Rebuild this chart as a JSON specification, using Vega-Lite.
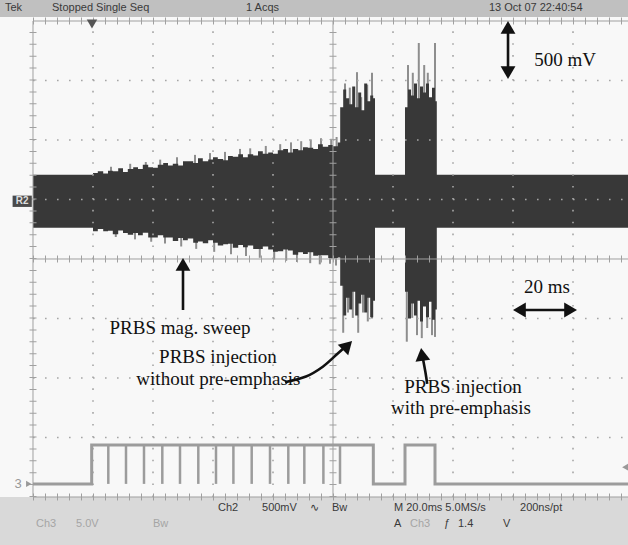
{
"$schema": "https://vega.github.io/schema/vega-lite/v6.json",
"width": 628, "height": 545, "padding": 0, "autosize": {"type": "none"},
"background": "#f8f8f8",
"config": {"view": {"stroke": null}},
"datasets": {
"header": [{"x": -0.55, "x2": 9.9167, "y": 4.067, "y2": 4.353}],
"footer": [{"x": -0.55, "x2": 9.9167, "y": -4.807, "y2": -4.0}],
"body": [
{"x":0,"hi":1.415,"lo":0.525},
{"x":1.0,"hi":1.445,"lo":0.465},{"x":1.08,"hi":1.475,"lo":0.505},{"x":1.17,"hi":1.435,"lo":0.466},{"x":1.25,"hi":1.485,"lo":0.476},
{"x":1.33,"hi":1.474,"lo":0.417},{"x":1.42,"hi":1.524,"lo":0.477},{"x":1.5,"hi":1.464,"lo":0.438},{"x":1.58,"hi":1.514,"lo":0.408},
{"x":1.67,"hi":1.544,"lo":0.438},{"x":1.75,"hi":1.514,"lo":0.399},{"x":1.83,"hi":1.583,"lo":0.439},{"x":1.92,"hi":1.543,"lo":0.36},
{"x":2.0,"hi":1.533,"lo":0.36},{"x":2.08,"hi":1.583,"lo":0.4},{"x":2.17,"hi":1.613,"lo":0.361},{"x":2.25,"hi":1.573,"lo":0.361},
{"x":2.33,"hi":1.602,"lo":0.302},{"x":2.42,"hi":1.572,"lo":0.352},{"x":2.5,"hi":1.642,"lo":0.313},{"x":2.58,"hi":1.642,"lo":0.343},
{"x":2.67,"hi":1.612,"lo":0.273},{"x":2.75,"hi":1.692,"lo":0.294},{"x":2.83,"hi":1.641,"lo":0.264},{"x":2.92,"hi":1.671,"lo":0.315},
{"x":3.0,"hi":1.711,"lo":0.275},{"x":3.08,"hi":1.681,"lo":0.225},{"x":3.17,"hi":1.661,"lo":0.246},{"x":3.25,"hi":1.731,"lo":0.256},
{"x":3.33,"hi":1.72,"lo":0.187},{"x":3.42,"hi":1.76,"lo":0.237},{"x":3.5,"hi":1.71,"lo":0.198},{"x":3.58,"hi":1.76,"lo":0.228},
{"x":3.67,"hi":1.74,"lo":0.168},{"x":3.75,"hi":1.81,"lo":0.169},{"x":3.83,"hi":1.769,"lo":0.209},{"x":3.92,"hi":1.789,"lo":0.16},
{"x":4.0,"hi":1.769,"lo":0.12},{"x":4.08,"hi":1.829,"lo":0.13},{"x":4.17,"hi":1.849,"lo":0.161},{"x":4.25,"hi":1.789,"lo":0.141},
{"x":4.33,"hi":1.848,"lo":0.072},{"x":4.42,"hi":1.828,"lo":0.112},{"x":4.5,"hi":1.878,"lo":0.083},{"x":4.58,"hi":1.868,"lo":0.113},
{"x":4.67,"hi":1.848,"lo":0.053},{"x":4.75,"hi":1.928,"lo":0.064},{"x":4.83,"hi":1.887,"lo":0.064},{"x":4.92,"hi":1.917,"lo":0.015},
{"x":5.0,"hi":1.897,"lo":0.015},{"x":5.08,"hi":1.957,"lo":0.025},
{"x":5.12,"hi":2.55,"lo":-0.45},{"x":5.17,"hi":2.85,"lo":-0.95},{"x":5.22,"hi":2.7,"lo":-0.65},{"x":5.27,"hi":2.6,"lo":-0.85},
{"x":5.32,"hi":2.9,"lo":-0.55},{"x":5.37,"hi":2.55,"lo":-0.95},{"x":5.42,"hi":2.8,"lo":-0.75},{"x":5.47,"hi":2.5,"lo":-0.6},
{"x":5.52,"hi":2.95,"lo":-0.9},{"x":5.57,"hi":2.65,"lo":-0.65},{"x":5.62,"hi":2.75,"lo":-0.98},{"x":5.67,"hi":2.7,"lo":-0.7},
{"x":5.7,"hi":1.415,"lo":0.525},
{"x":6.2,"hi":2.55,"lo":-0.55},{"x":6.25,"hi":2.85,"lo":-1.0},{"x":6.3,"hi":2.75,"lo":-0.75},{"x":6.35,"hi":2.95,"lo":-0.95},
{"x":6.4,"hi":2.7,"lo":-0.7},{"x":6.45,"hi":2.9,"lo":-1.05},{"x":6.5,"hi":2.8,"lo":-0.8},{"x":6.55,"hi":2.95,"lo":-0.98},
{"x":6.6,"hi":2.72,"lo":-0.72},{"x":6.65,"hi":2.88,"lo":-1.02},{"x":6.7,"hi":2.65,"lo":-0.85},
{"x":6.73,"hi":1.415,"lo":0.525},{"x":9.92,"hi":1.415,"lo":0.525}
],
"spikes": [
{"x":1.3,"tip":1.55},{"x":1.62,"tip":1.6},{"x":1.88,"tip":1.63},{"x":2.12,"tip":1.67},{"x":2.4,"tip":1.71},{"x":2.7,"tip":1.75},{"x":2.95,"tip":1.78},
{"x":3.2,"tip":1.8},{"x":3.45,"tip":1.85},{"x":3.62,"tip":1.86},{"x":3.88,"tip":1.9},{"x":4.12,"tip":1.93},{"x":4.3,"tip":1.96},
{"x":4.47,"tip":1.98},{"x":4.63,"tip":2.01},{"x":4.8,"tip":2.03},{"x":4.97,"tip":2.02},{"x":5.06,"tip":2.05},
{"x":1.38,"tip":0.37},{"x":1.7,"tip":0.33},{"x":1.97,"tip":0.29},{"x":2.2,"tip":0.26},{"x":2.47,"tip":0.21},{"x":2.72,"tip":0.17},{"x":3.02,"tip":0.12},
{"x":3.3,"tip":0.08},{"x":3.55,"tip":0.05},{"x":3.78,"tip":0.02},{"x":4.02,"tip":-0.01},{"x":4.22,"tip":-0.03},{"x":4.4,"tip":-0.05},
{"x":4.62,"tip":-0.07},{"x":4.78,"tip":-0.09},{"x":4.95,"tip":-0.08},{"x":5.05,"tip":-0.11},
{"x":5.2,"tip":2.95},{"x":5.28,"tip":2.88},{"x":5.4,"tip":3.14},{"x":5.47,"tip":2.72},{"x":5.57,"tip":2.93},{"x":5.65,"tip":3.13},
{"x":5.17,"tip":-1.24},{"x":5.25,"tip":-0.9},{"x":5.33,"tip":-0.99},{"x":5.42,"tip":-1.24},{"x":5.5,"tip":-0.9},{"x":5.58,"tip":-1.05},{"x":5.65,"tip":-1.0},
{"x":6.25,"tip":3.26},{"x":6.33,"tip":3.13},{"x":6.43,"tip":3.63},{"x":6.52,"tip":3.26},{"x":6.58,"tip":3.13},{"x":6.7,"tip":3.63},
{"x":6.23,"tip":-1.39},{"x":6.32,"tip":-0.99},{"x":6.4,"tip":-1.28},{"x":6.48,"tip":-1.33},{"x":6.57,"tip":-1.16},{"x":6.65,"tip":-1.28},{"x":6.7,"tip":-1.31}
],
"gridH": [{"y":-3},{"y":-2},{"y":-1},{"y":1},{"y":2},{"y":3}],
"gridV": [{"x":1},{"x":2},{"x":3},{"x":4},{"x":6},{"x":7},{"x":8},{"x":9}],
"lineH": [{"y":0},{"y":4},{"y":-4}],
"lineV": [{"x":0},{"x":5}],
"ch3": [{"x":0,"v":-3.78},{"x":0.978,"v":-3.126},{"x":5.672,"v":-3.78},{"x":6.2,"v":-3.126},{"x":6.7,"v":-3.78},{"x":9.92,"v":-3.78}],
"pulses": [{"x":1.255},{"x":1.55},{"x":1.85},{"x":2.155},{"x":2.45},{"x":2.755},{"x":3.05},{"x":3.34},{"x":3.645},{"x":3.95},{"x":4.255},{"x":4.522},{"x":4.84},{"x":5.117}],
"arrows": [
{"id":"mv","ord":0,"x":7.917,"y":3.85},{"id":"mv","ord":1,"x":7.917,"y":3.17},
{"id":"ms","ord":0,"x":8.15,"y":-0.857},{"id":"ms","ord":1,"x":8.92,"y":-0.857},
{"id":"sw","ord":0,"x":2.5,"y":-0.857},{"id":"sw","ord":1,"x":2.5,"y":-0.15},
{"id":"wo","ord":0,"x":4.2,"y":-2.07},{"id":"wo","ord":1,"x":4.55,"y":-1.975},{"id":"wo","ord":2,"x":4.83,"y":-1.81},{"id":"wo","ord":3,"x":5.07,"y":-1.597},{"id":"wo","ord":4,"x":5.2,"y":-1.479},
{"id":"wi","ord":0,"x":6.57,"y":-2.1},{"id":"wi","ord":1,"x":6.54,"y":-1.9},{"id":"wi","ord":2,"x":6.5,"y":-1.68}
],
"headUp": [{"x":7.917,"y":3.892},{"x":2.5,"y":-0.09}],
"headDown": [{"x":7.917,"y":3.133}],
"headLeft": [{"x":8.107,"y":-0.857}],
"headRight": [{"x":8.96,"y":-0.857}],
"headWo": [{"x":5.242,"y":-1.454}],
"headWi": [{"x":6.483,"y":-1.603}],
"notes": [
{"x":8.867,"y":3.345,"t":"500 mV"},
{"x":8.567,"y":-0.47,"t":"20 ms"},
{"x":2.45,"y":-1.16,"t":"PRBS mag. sweep"},
{"x":3.083,"y":-1.647,"t":"PRBS injection"},
{"x":3.09,"y":-2.017,"t":"without pre-emphasis"},
{"x":7.167,"y":-2.151,"t":"PRBS injection"},
{"x":7.133,"y":-2.504,"t":"with pre-emphasis"}
],
"headTxt": [
{"x":-0.467,"y":4.218,"t":"Tek"},
{"x":0.317,"y":4.218,"t":"Stopped  Single Seq"},
{"x":3.55,"y":4.218,"t":"1 Acqs"},
{"x":7.6,"y":4.218,"t":"13 Oct 07 22:40:54"}
],
"footDark": [
{"x":3.083,"y":-4.185,"t":"Ch2"},
{"x":3.817,"y":-4.185,"t":"500mV"},
{"x":4.617,"y":-4.185,"t":"∿"},
{"x":4.983,"y":-4.185,"t":"Bw"},
{"x":6.017,"y":-4.185,"t":"M 20.0ms 5.0MS/s"},
{"x":8.117,"y":-4.185,"t":"200ns/pt"},
{"x":6.017,"y":-4.454,"t":"A"},
{"x":6.85,"y":-4.454,"t":"ƒ"},
{"x":7.083,"y":-4.454,"t":"1.4"},
{"x":7.833,"y":-4.454,"t":"V"}
],
"footLight": [
{"x":0.05,"y":-4.454,"t":"Ch3"},
{"x":0.717,"y":-4.454,"t":"5.0V"},
{"x":2.0,"y":-4.454,"t":"Bw"},
{"x":6.283,"y":-4.454,"t":"Ch3"}
],
"r2box": [{"x":-0.34,"x2":-0.02,"y":0.875,"y2":1.065}],
"r2txt": [{"x":-0.18,"y":0.97,"t":"R2"}],
"ch3lab": [{"x":-0.25,"y":-3.78,"t":"3"}],
"ch3ptr": [{"x":-0.07,"y":-3.78}],
"trigTop": [{"x":0.983,"y":3.95}],
"trigLvl": [{"x":9.87,"y":-3.5}]
},
"layer": [
{"data":{"name":"header"},"mark":{"type":"rect","color":"#c0c0c0"},
 "encoding":{"x":{"field":"x","type":"quantitative","scale":{"domain":[-0.55,9.9167],"nice":false,"zero":false},"axis":null},"x2":{"field":"x2"},
 "y":{"field":"y","type":"quantitative","scale":{"domain":[-4.807,4.353],"nice":false,"zero":false},"axis":null},"y2":{"field":"y2"}}},
{"data":{"name":"footer"},"mark":{"type":"rect","color":"#d9d9d9"},
 "encoding":{"x":{"field":"x","type":"quantitative","scale":{"domain":[-0.55,9.9167],"nice":false,"zero":false},"axis":null},"x2":{"field":"x2"},
 "y":{"field":"y","type":"quantitative","scale":{"domain":[-4.807,4.353],"nice":false,"zero":false},"axis":null},"y2":{"field":"y2"}}},
{"data":{"name":"spikes"},"mark":{"type":"rule","color":"#8e8e8e","strokeWidth":2},
 "encoding":{"x":{"field":"x","type":"quantitative","scale":{"domain":[-0.55,9.9167],"nice":false,"zero":false},"axis":null},
 "y":{"field":"tip","type":"quantitative","scale":{"domain":[-4.807,4.353],"nice":false,"zero":false},"axis":null},"y2":{"datum":0.97}}},
{"data":{"name":"body"},"mark":{"type":"area","color":"#383838","interpolate":"step-after","opacity":1},
 "encoding":{"x":{"field":"x","type":"quantitative","scale":{"domain":[-0.55,9.9167],"nice":false,"zero":false},"axis":null},
 "y":{"field":"hi","type":"quantitative","scale":{"domain":[-4.807,4.353],"nice":false,"zero":false},"axis":null},"y2":{"field":"lo"}}},
{"data":{"name":"gridH"},"mark":{"type":"rule","color":"#a6a6a6","strokeWidth":1.6,"strokeDash":[1.6,10.4]},
 "encoding":{"x":{"datum":0,"type":"quantitative","scale":{"domain":[-0.55,9.9167],"nice":false,"zero":false},"axis":null},"x2":{"datum":9.92},
 "y":{"field":"y","type":"quantitative","scale":{"domain":[-4.807,4.353],"nice":false,"zero":false},"axis":null}}},
{"data":{"name":"gridV"},"mark":{"type":"rule","color":"#a6a6a6","strokeWidth":1.6,"strokeDash":[1.6,10.3]},
 "encoding":{"x":{"field":"x","type":"quantitative","scale":{"domain":[-0.55,9.9167],"nice":false,"zero":false},"axis":null},
 "y":{"datum":-4,"type":"quantitative","scale":{"domain":[-4.807,4.353],"nice":false,"zero":false},"axis":null},"y2":{"datum":4}}},
{"data":{"name":"lineH"},"mark":{"type":"rule","color":"#a0a0a0","strokeWidth":1},
 "encoding":{"x":{"datum":0,"type":"quantitative","scale":{"domain":[-0.55,9.9167],"nice":false,"zero":false},"axis":null},"x2":{"datum":9.92},
 "y":{"field":"y","type":"quantitative","scale":{"domain":[-4.807,4.353],"nice":false,"zero":false},"axis":null}}},
{"data":{"name":"lineH"},"mark":{"type":"rule","color":"#a0a0a0","strokeWidth":7,"strokeDash":[1,11]},
 "encoding":{"x":{"datum":0,"type":"quantitative","scale":{"domain":[-0.55,9.9167],"nice":false,"zero":false},"axis":null},"x2":{"datum":9.92},
 "y":{"field":"y","type":"quantitative","scale":{"domain":[-4.807,4.353],"nice":false,"zero":false},"axis":null}}},
{"data":{"name":"lineV"},"mark":{"type":"rule","color":"#a0a0a0","strokeWidth":1},
 "encoding":{"x":{"field":"x","type":"quantitative","scale":{"domain":[-0.55,9.9167],"nice":false,"zero":false},"axis":null},
 "y":{"datum":-4,"type":"quantitative","scale":{"domain":[-4.807,4.353],"nice":false,"zero":false},"axis":null},"y2":{"datum":4}}},
{"data":{"name":"lineV"},"mark":{"type":"rule","color":"#a0a0a0","strokeWidth":7,"strokeDash":[1,10.9]},
 "encoding":{"x":{"field":"x","type":"quantitative","scale":{"domain":[-0.55,9.9167],"nice":false,"zero":false},"axis":null},
 "y":{"datum":-4,"type":"quantitative","scale":{"domain":[-4.807,4.353],"nice":false,"zero":false},"axis":null},"y2":{"datum":4}}},
{"data":{"name":"ch3"},"mark":{"type":"line","color":"#9c9c9c","strokeWidth":3,"interpolate":"step-after"},
 "encoding":{"x":{"field":"x","type":"quantitative","scale":{"domain":[-0.55,9.9167],"nice":false,"zero":false},"axis":null},
 "y":{"field":"v","type":"quantitative","scale":{"domain":[-4.807,4.353],"nice":false,"zero":false},"axis":null}}},
{"data":{"name":"pulses"},"mark":{"type":"rule","color":"#9c9c9c","strokeWidth":2.5},
 "encoding":{"x":{"field":"x","type":"quantitative","scale":{"domain":[-0.55,9.9167],"nice":false,"zero":false},"axis":null},
 "y":{"datum":-3.126,"type":"quantitative","scale":{"domain":[-4.807,4.353],"nice":false,"zero":false},"axis":null},"y2":{"datum":-3.78}}},
{"data":{"name":"r2box"},"mark":{"type":"rect","color":"#4a4a4a"},
 "encoding":{"x":{"field":"x","type":"quantitative","scale":{"domain":[-0.55,9.9167],"nice":false,"zero":false},"axis":null},"x2":{"field":"x2"},
 "y":{"field":"y","type":"quantitative","scale":{"domain":[-4.807,4.353],"nice":false,"zero":false},"axis":null},"y2":{"field":"y2"}}},
{"data":{"name":"r2txt"},"mark":{"type":"text","color":"#dddddd","font":"Liberation Sans","fontSize":10,"fontWeight":"bold","align":"center","baseline":"middle"},
 "encoding":{"x":{"field":"x","type":"quantitative","scale":{"domain":[-0.55,9.9167],"nice":false,"zero":false},"axis":null},
 "y":{"field":"y","type":"quantitative","scale":{"domain":[-4.807,4.353],"nice":false,"zero":false},"axis":null},"text":{"field":"t"}}},
{"data":{"name":"ch3lab"},"mark":{"type":"text","color":"#999999","font":"Liberation Sans","fontSize":13,"align":"center","baseline":"middle"},
 "encoding":{"x":{"field":"x","type":"quantitative","scale":{"domain":[-0.55,9.9167],"nice":false,"zero":false},"axis":null},
 "y":{"field":"y","type":"quantitative","scale":{"domain":[-4.807,4.353],"nice":false,"zero":false},"axis":null},"text":{"field":"t"}}},
{"data":{"name":"ch3ptr"},"mark":{"type":"point","shape":"triangle-right","filled":true,"color":"#999999","size":40,"opacity":1},
 "encoding":{"x":{"field":"x","type":"quantitative","scale":{"domain":[-0.55,9.9167],"nice":false,"zero":false},"axis":null},
 "y":{"field":"y","type":"quantitative","scale":{"domain":[-4.807,4.353],"nice":false,"zero":false},"axis":null}}},
{"data":{"name":"trigTop"},"mark":{"type":"point","shape":"triangle-down","filled":true,"color":"#555555","size":110,"opacity":1},
 "encoding":{"x":{"field":"x","type":"quantitative","scale":{"domain":[-0.55,9.9167],"nice":false,"zero":false},"axis":null},
 "y":{"field":"y","type":"quantitative","scale":{"domain":[-4.807,4.353],"nice":false,"zero":false},"axis":null}}},
{"data":{"name":"trigLvl"},"mark":{"type":"point","shape":"triangle-left","filled":true,"color":"#999999","size":50,"opacity":1},
 "encoding":{"x":{"field":"x","type":"quantitative","scale":{"domain":[-0.55,9.9167],"nice":false,"zero":false},"axis":null},
 "y":{"field":"y","type":"quantitative","scale":{"domain":[-4.807,4.353],"nice":false,"zero":false},"axis":null}}},
{"data":{"name":"arrows"},"mark":{"type":"line","color":"#111111","strokeWidth":2.6,"interpolate":"cardinal"},
 "encoding":{"x":{"field":"x","type":"quantitative","scale":{"domain":[-0.55,9.9167],"nice":false,"zero":false},"axis":null},
 "y":{"field":"y","type":"quantitative","scale":{"domain":[-4.807,4.353],"nice":false,"zero":false},"axis":null},
 "detail":{"field":"id","type":"nominal"},"order":{"field":"ord","type":"quantitative"}}},
{"data":{"name":"headUp"},"mark":{"type":"point","shape":"triangle-up","filled":true,"color":"#111111","size":220,"opacity":1},
 "encoding":{"x":{"field":"x","type":"quantitative","scale":{"domain":[-0.55,9.9167],"nice":false,"zero":false},"axis":null},
 "y":{"field":"y","type":"quantitative","scale":{"domain":[-4.807,4.353],"nice":false,"zero":false},"axis":null}}},
{"data":{"name":"headDown"},"mark":{"type":"point","shape":"triangle-down","filled":true,"color":"#111111","size":220,"opacity":1},
 "encoding":{"x":{"field":"x","type":"quantitative","scale":{"domain":[-0.55,9.9167],"nice":false,"zero":false},"axis":null},
 "y":{"field":"y","type":"quantitative","scale":{"domain":[-4.807,4.353],"nice":false,"zero":false},"axis":null}}},
{"data":{"name":"headLeft"},"mark":{"type":"point","shape":"triangle-left","filled":true,"color":"#111111","size":220,"opacity":1},
 "encoding":{"x":{"field":"x","type":"quantitative","scale":{"domain":[-0.55,9.9167],"nice":false,"zero":false},"axis":null},
 "y":{"field":"y","type":"quantitative","scale":{"domain":[-4.807,4.353],"nice":false,"zero":false},"axis":null}}},
{"data":{"name":"headRight"},"mark":{"type":"point","shape":"triangle-right","filled":true,"color":"#111111","size":220,"opacity":1},
 "encoding":{"x":{"field":"x","type":"quantitative","scale":{"domain":[-0.55,9.9167],"nice":false,"zero":false},"axis":null},
 "y":{"field":"y","type":"quantitative","scale":{"domain":[-4.807,4.353],"nice":false,"zero":false},"axis":null}}},
{"data":{"name":"headWo"},"mark":{"type":"point","shape":"triangle-up","angle":45,"filled":true,"color":"#111111","size":220,"opacity":1},
 "encoding":{"x":{"field":"x","type":"quantitative","scale":{"domain":[-0.55,9.9167],"nice":false,"zero":false},"axis":null},
 "y":{"field":"y","type":"quantitative","scale":{"domain":[-4.807,4.353],"nice":false,"zero":false},"axis":null}}},
{"data":{"name":"headWi"},"mark":{"type":"point","shape":"triangle-up","angle":-8,"filled":true,"color":"#111111","size":220,"opacity":1},
 "encoding":{"x":{"field":"x","type":"quantitative","scale":{"domain":[-0.55,9.9167],"nice":false,"zero":false},"axis":null},
 "y":{"field":"y","type":"quantitative","scale":{"domain":[-4.807,4.353],"nice":false,"zero":false},"axis":null}}},
{"data":{"name":"notes"},"mark":{"type":"text","color":"#111111","font":"Liberation Serif","fontSize":19,"align":"center","baseline":"middle"},
 "encoding":{"x":{"field":"x","type":"quantitative","scale":{"domain":[-0.55,9.9167],"nice":false,"zero":false},"axis":null},
 "y":{"field":"y","type":"quantitative","scale":{"domain":[-4.807,4.353],"nice":false,"zero":false},"axis":null},
 "text":{"field":"t"}}},
{"data":{"name":"headTxt"},"mark":{"type":"text","color":"#3a3a3a","font":"Liberation Sans","fontSize":11,"align":"left","baseline":"middle"},
 "encoding":{"x":{"field":"x","type":"quantitative","scale":{"domain":[-0.55,9.9167],"nice":false,"zero":false},"axis":null},
 "y":{"field":"y","type":"quantitative","scale":{"domain":[-4.807,4.353],"nice":false,"zero":false},"axis":null},"text":{"field":"t"}}},
{"data":{"name":"footDark"},"mark":{"type":"text","color":"#3a3a3a","font":"Liberation Sans, DejaVu Sans","fontSize":11,"align":"left","baseline":"middle"},
 "encoding":{"x":{"field":"x","type":"quantitative","scale":{"domain":[-0.55,9.9167],"nice":false,"zero":false},"axis":null},
 "y":{"field":"y","type":"quantitative","scale":{"domain":[-4.807,4.353],"nice":false,"zero":false},"axis":null},"text":{"field":"t"}}},
{"data":{"name":"footLight"},"mark":{"type":"text","color":"#a5a5a5","font":"Liberation Sans","fontSize":11,"align":"left","baseline":"middle"},
 "encoding":{"x":{"field":"x","type":"quantitative","scale":{"domain":[-0.55,9.9167],"nice":false,"zero":false},"axis":null},
 "y":{"field":"y","type":"quantitative","scale":{"domain":[-4.807,4.353],"nice":false,"zero":false},"axis":null},"text":{"field":"t"}}}
]
}
